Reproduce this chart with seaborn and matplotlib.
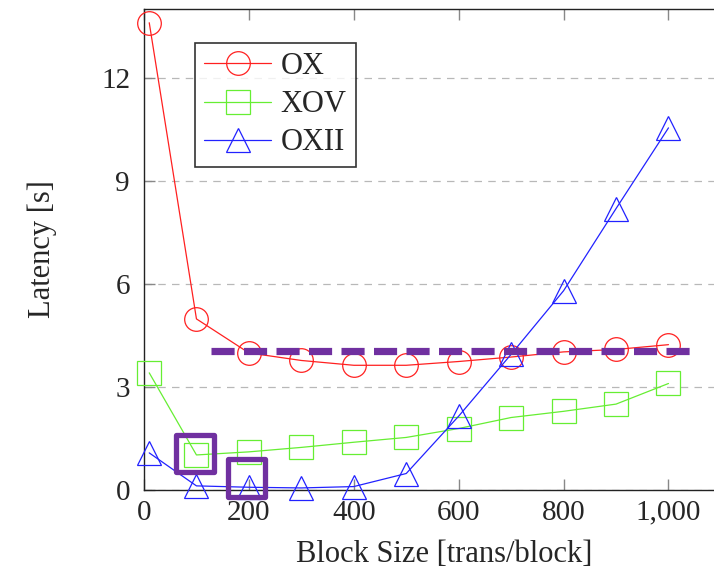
import matplotlib
matplotlib.use("Agg")
import matplotlib.pyplot as plt
import seaborn as sns
import numpy as np
from matplotlib.ticker import FuncFormatter

block_sizes = [10, 100, 200, 300, 400, 500, 600, 700, 800, 900, 1000]
ox = [13.6, 4.98, 3.99, 3.77, 3.63, 3.63, 3.74, 3.87, 4.02, 4.09, 4.23]
xov = [3.41, 1.02, 1.11, 1.24, 1.39, 1.53, 1.79, 2.11, 2.29, 2.50, 3.10]
oxii = [1.08, 0.12, 0.08, 0.06, 0.10, 0.48, 2.15, 3.95, 5.80, 8.19, 10.54]
series_names = ["OX", "XOV", "OXII"]
threshold_x = [128, 1048]
threshold_y = [4.05, 4.05]
highlight_x = [97, 195]
highlight_y = [1.06, 0.35]
x_ticks = [0, 200, 400, 600, 800, 1000]
y_ticks = [0, 3, 6, 9, 12]

sns.set_theme(style="white")
plt.rcParams['font.family'] = ['Liberation Serif', 'DejaVu Serif']

fig = plt.figure(figsize=(7.14, 5.76), dpi=100)
ax = fig.add_axes([144/714, 1-490/576, 600/714, 481/576])

colors = ["#ff2020", "#66ee33", "#2222ff"]
markers = ["o", "s", "^"]
for name, vals, c, m in zip(series_names, [ox, xov, oxii], colors, markers):
    sns.lineplot(x=block_sizes, y=vals, ax=ax, color=c, marker=m, markersize=17,
                 markerfacecolor="none", markeredgecolor=c, markeredgewidth=0.9,
                 linewidth=0.9, label=name, zorder=3, clip_on=False)

sns.lineplot(x=threshold_x, y=threshold_y, ax=ax, color="#7030a0", linewidth=5.2,
             dashes=False, zorder=4, legend=False)
ax.lines[-1].set_dashes((3.2, 1.3))
ax.lines[-1].set_dash_capstyle("butt")

sns.scatterplot(x=highlight_x, y=highlight_y, ax=ax, marker="s", s=27**2,
                facecolor="none", edgecolor="#7030a0", linewidth=3.8, zorder=5,
                legend=False, clip_on=False)

ax.set_xlim(0, 1144)
ax.set_ylim(0, 14)
ax.set_xticks(x_ticks)
ax.set_yticks(y_ticks)
ax.xaxis.set_major_formatter(FuncFormatter(lambda v, p: f"{int(v):,}"))
ax.yaxis.grid(True, linestyle=(0, (6, 5)), color="#b8b8b8", linewidth=0.9)
ax.xaxis.grid(False)
for s in ax.spines.values():
    s.set_color("#222222")
    s.set_linewidth(1.0)
ax.spines["right"].set_visible(False)
ax.tick_params(axis="both", which="both", direction="in", length=8, width=1,
               color="#888888", labelsize=21, top=True, right=False,
               bottom=True, left=True)
ax.tick_params(axis="x", pad=7)
ax.tick_params(axis="y", pad=10)
ax.set_xlabel("Block Size [trans/block]", fontsize=22, labelpad=10)
ax.set_ylabel("Latency [s]", fontsize=22, labelpad=32)

leg = ax.legend(loc="upper left", bbox_to_anchor=(51/600, 447/481), fontsize=22,
                frameon=True, fancybox=False, edgecolor="black",
                handlelength=2.2, borderpad=0.3, labelspacing=0.3,
                handletextpad=0.3, borderaxespad=0)
leg.get_frame().set_linewidth(1.2)

fig.savefig("out.png", dpi=100)
